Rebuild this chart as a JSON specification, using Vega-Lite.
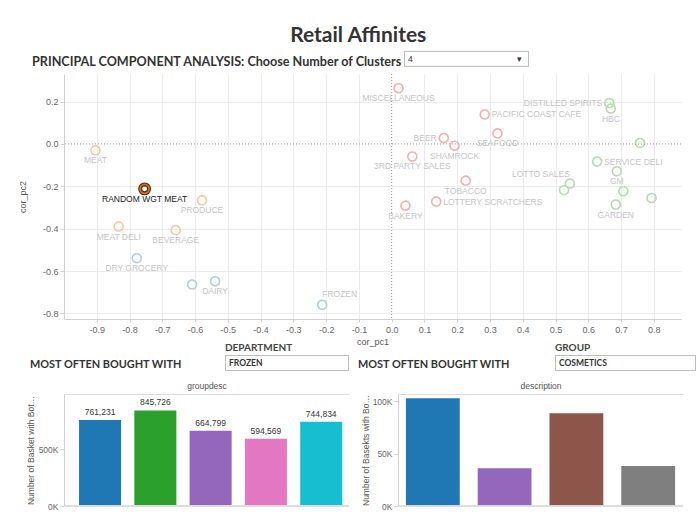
{
  "$schema": "https://vega.github.io/schema/vega-lite/v6.json",
  "background": "white",
  "padding": {"left": 18, "top": 24, "right": 0, "bottom": 0},
  "title": {"text": "Retail Affinites", "font": "Lato", "fontSize": 21, "fontWeight": "bold", "color": "#333", "anchor": "middle", "offset": 5, "dx": 0},
  "spacing": -3,
  "resolve": {"scale": {"x": "independent", "y": "independent", "color": "independent", "strokeDash": "independent"}, "legend": {"color": "independent", "strokeDash": "independent"}},
  "config": {
    "view": {"stroke": null},
    "axis": {"labelFont": "Liberation Sans", "titleFont": "Liberation Sans", "labelColor": "#666", "titleColor": "#555", "labelFontSize": 9, "titleFontSize": 9, "titleFontWeight": "normal", "domainColor": "#d0d0d0", "tickColor": "#d0d0d0", "gridColor": "#ececec", "labelOverlap": false},
    "text": {"font": "Liberation Sans"}
  },
  "vconcat": [
    {
      "width": 617,
      "height": 245,
      "title": {"text": "PRINCIPAL COMPONENT ANALYSIS: Choose Number of Clusters", "anchor": "start", "frame": "group", "dx": -32, "offset": -17.4, "font": "Lato", "fontSize": 12.6, "fontWeight": "bold", "color": "#333"},
      "data": {"values": [
        {"name": "MEAT", "x": -0.904, "y": -0.030, "cluster": "Cluster 2", "clusters": "4"},
        {"name": "RANDOM WGT MEAT", "x": -0.754, "y": -0.212, "cluster": "Cluster 2", "clusters": "4"},
        {"name": "PRODUCE", "x": -0.579, "y": -0.266, "cluster": "Cluster 2", "clusters": "4"},
        {"name": "MEAT DELI", "x": -0.833, "y": -0.390, "cluster": "Cluster 2", "clusters": "4"},
        {"name": "BEVERAGE", "x": -0.659, "y": -0.407, "cluster": "Cluster 2", "clusters": "4"},
        {"name": "DRY GROCERY", "x": -0.778, "y": -0.539, "cluster": "Cluster 1", "clusters": "4"},
        {"name": "BULK FOODS", "x": -0.609, "y": -0.663, "cluster": "Cluster 1", "clusters": "4"},
        {"name": "DAIRY", "x": -0.539, "y": -0.648, "cluster": "Cluster 1", "clusters": "4"},
        {"name": "FROZEN", "x": -0.212, "y": -0.759, "cluster": "Cluster 1", "clusters": "4"},
        {"name": "MISCELLANEOUS", "x": 0.021, "y": 0.263, "cluster": "Cluster 4", "clusters": "4"},
        {"name": "PACIFIC COAST CAFE", "x": 0.284, "y": 0.139, "cluster": "Cluster 4", "clusters": "4"},
        {"name": "SEAFOOD", "x": 0.323, "y": 0.050, "cluster": "Cluster 4", "clusters": "4"},
        {"name": "BEER", "x": 0.159, "y": 0.028, "cluster": "Cluster 4", "clusters": "4"},
        {"name": "SHAMROCK", "x": 0.192, "y": -0.008, "cluster": "Cluster 4", "clusters": "4"},
        {"name": "3RD PARTY SALES", "x": 0.063, "y": -0.059, "cluster": "Cluster 4", "clusters": "4"},
        {"name": "TOBACCO", "x": 0.226, "y": -0.173, "cluster": "Cluster 4", "clusters": "4"},
        {"name": "LOTTERY SCRATCHERS", "x": 0.136, "y": -0.272, "cluster": "Cluster 4", "clusters": "4"},
        {"name": "BAKERY", "x": 0.042, "y": -0.291, "cluster": "Cluster 4", "clusters": "4"},
        {"name": "DISTILLED SPIRITS", "x": 0.664, "y": 0.193, "cluster": "Cluster 3", "clusters": "4"},
        {"name": "HBC", "x": 0.669, "y": 0.167, "cluster": "Cluster 3", "clusters": "4"},
        {"name": "COSMETICS", "x": 0.758, "y": 0.005, "cluster": "Cluster 3", "clusters": "4"},
        {"name": "SERVICE DELI", "x": 0.627, "y": -0.083, "cluster": "Cluster 3", "clusters": "4"},
        {"name": "GM", "x": 0.687, "y": -0.129, "cluster": "Cluster 3", "clusters": "4"},
        {"name": "LOTTO SALES", "x": 0.544, "y": -0.187, "cluster": "Cluster 3", "clusters": "4"},
        {"name": "WINE", "x": 0.526, "y": -0.218, "cluster": "Cluster 3", "clusters": "4"},
        {"name": "PHARMACY", "x": 0.707, "y": -0.223, "cluster": "Cluster 3", "clusters": "4"},
        {"name": "GARDEN", "x": 0.684, "y": -0.286, "cluster": "Cluster 3", "clusters": "4"},
        {"name": "SEASONAL", "x": 0.793, "y": -0.255, "cluster": "Cluster 3", "clusters": "4"}
      ]},
      "layer": [
        {
          "mark": {"type": "point", "filled": false, "size": 80, "strokeWidth": 1.6, "opacity": 1},
          "encoding": {
            "x": {"field": "x", "type": "quantitative", "scale": {"domain": [-1.0, 0.883], "nice": false, "zero": false},
              "axis": {"values": [-0.9, -0.8, -0.7, -0.6, -0.5, -0.4, -0.3, -0.2, -0.1, 0, 0.1, 0.2, 0.3, 0.4, 0.5, 0.6, 0.7, 0.8], "tickCount": 40, "labelExpr": "replace(format(datum.value, '.1f'), '\u2212', '-')", "labelOverlap": false, "title": "cor_pc1", "grid": true, "gridColor": {"condition": {"test": "datum.value === 0", "value": "transparent"}, "value": "#ececec"}, "tickSize": 3, "labelPadding": 3, "titlePadding": 3}},
            "y": {"field": "y", "type": "quantitative", "scale": {"domain": [-0.826, 0.33], "nice": false, "zero": false},
              "axis": {"values": [-0.8, -0.6, -0.4, -0.2, 0, 0.2], "tickCount": 20, "labelExpr": "replace(format(datum.value, '.1f'), '\u2212', '-')", "labelOverlap": false, "title": "cor_pc2", "grid": true, "gridColor": {"condition": {"test": "datum.value === 0", "value": "transparent"}, "value": "#ececec"}, "tickSize": 4, "labelPadding": 2, "titlePadding": 15}},
            "color": {"field": "cluster", "type": "nominal", "scale": {"domain": ["Cluster 1", "Cluster 2", "Cluster 3", "Cluster 4"], "range": ["#b7cce2", "#fac8a0", "#b5dcae", "#f1b0b0"]}, "legend": null},
            "strokeDash": {"field": "clusters", "type": "nominal", "scale": {"range": [[1, 0]]},
              "legend": {"orient": "none", "legendX": 340, "legendY": -23.1, "title": null, "symbolType": "M-1,-1H15.53V1H-1Z", "symbolSize": 225, "symbolFillColor": "white", "symbolStrokeColor": "#a8a8a8", "symbolStrokeWidth": 1, "symbolOpacity": 1, "labelOffset": -12, "labelFont": "Liberation Sans", "labelFontSize": 8.5, "labelColor": "#333", "labelExpr": "datum.label + '\u00a0\u00a0\u00a0\u00a0\u00a0\u00a0\u00a0\u00a0\u00a0\u00a0\u00a0\u00a0\u00a0\u00a0\u00a0\u00a0\u00a0\u00a0\u00a0\u00a0\u00a0\u00a0\u00a0\u00a0\u00a0\u00a0\u00a0\u00a0\u00a0\u00a0\u00a0\u00a0\u00a0\u00a0\u00a0\u00a0\u00a0\u00a0\u00a0\u00a0\u00a0\u00a0\u00a0\u00a0▾'", "labelLimit": 200, "padding": 0}}
          }
        },
        {
          "data": {"values": [{"x": 0}]},
          "mark": {"type": "rule", "color": "#9a9a9a", "strokeDash": [1, 2], "strokeWidth": 1},
          "encoding": {"x": {"field": "x", "type": "quantitative"}}
        },
        {
          "data": {"values": [{"y": 0}]},
          "mark": {"type": "rule", "color": "#9a9a9a", "strokeDash": [1, 2], "strokeWidth": 1},
          "encoding": {"y": {"field": "y", "type": "quantitative"}}
        },
        {
          "transform": [{"filter": {"field": "name", "oneOf": ["MEAT", "PRODUCE", "MEAT DELI", "BEVERAGE", "DRY GROCERY", "DAIRY", "MISCELLANEOUS", "SEAFOOD", "SHAMROCK", "3RD PARTY SALES", "TOBACCO", "BAKERY", "HBC", "GM", "GARDEN"]}}],
          "mark": {"type": "text", "fontSize": 8.5, "color": "#c4c4c4", "align": "center", "baseline": "middle", "dy": 10},
          "encoding": {"x": {"field": "x", "type": "quantitative"}, "y": {"field": "y", "type": "quantitative"}, "text": {"field": "name"}}
        },
        {
          "transform": [{"filter": {"field": "name", "oneOf": ["PACIFIC COAST CAFE", "LOTTERY SCRATCHERS", "SERVICE DELI"]}}],
          "mark": {"type": "text", "fontSize": 8.5, "color": "#c4c4c4", "align": "left", "baseline": "middle", "dx": 7},
          "encoding": {"x": {"field": "x", "type": "quantitative"}, "y": {"field": "y", "type": "quantitative"}, "text": {"field": "name"}}
        },
        {
          "transform": [{"filter": {"field": "name", "oneOf": ["BEER", "DISTILLED SPIRITS"]}}],
          "mark": {"type": "text", "fontSize": 8.5, "color": "#c4c4c4", "align": "right", "baseline": "middle", "dx": -7},
          "encoding": {"x": {"field": "x", "type": "quantitative"}, "y": {"field": "y", "type": "quantitative"}, "text": {"field": "name"}}
        },
        {
          "transform": [{"filter": {"field": "name", "equal": "LOTTO SALES"}}],
          "mark": {"type": "text", "fontSize": 8.5, "color": "#c4c4c4", "align": "right", "baseline": "middle", "dy": -10},
          "encoding": {"x": {"field": "x", "type": "quantitative"}, "y": {"field": "y", "type": "quantitative"}, "text": {"field": "name"}}
        },
        {
          "transform": [{"filter": {"field": "name", "equal": "FROZEN"}}],
          "mark": {"type": "text", "fontSize": 8.5, "color": "#c4c4c4", "align": "left", "baseline": "middle", "dy": -11},
          "encoding": {"x": {"field": "x", "type": "quantitative"}, "y": {"field": "y", "type": "quantitative"}, "text": {"field": "name"}}
        },
        {
          "transform": [{"filter": {"field": "name", "equal": "RANDOM WGT MEAT"}}],
          "mark": {"type": "point", "filled": false, "size": 80, "strokeWidth": 4, "color": "#4a2c14", "opacity": 1},
          "encoding": {"x": {"field": "x", "type": "quantitative"}, "y": {"field": "y", "type": "quantitative"}}
        },
        {
          "transform": [{"filter": {"field": "name", "equal": "RANDOM WGT MEAT"}}],
          "mark": {"type": "point", "filled": false, "size": 80, "strokeWidth": 1.8, "color": "#d86c1c", "opacity": 1},
          "encoding": {"x": {"field": "x", "type": "quantitative"}, "y": {"field": "y", "type": "quantitative"}}
        },
        {
          "transform": [{"filter": {"field": "name", "equal": "RANDOM WGT MEAT"}}],
          "mark": {"type": "text", "fontSize": 8.5, "color": "#222", "align": "center", "baseline": "middle", "dy": 10},
          "encoding": {"x": {"field": "x", "type": "quantitative"}, "y": {"field": "y", "type": "quantitative"}, "text": {"field": "name"}}
        }
      ]
    },
    {
      "spacing": 7,
      "resolve": {"scale": {"x": "independent", "y": "independent", "color": "independent", "strokeDash": "independent"}, "legend": {"color": "independent", "strokeDash": "independent"}},
      "hconcat": [
        {
          "width": 285,
          "height": 112,
          "title": {"text": "MOST OFTEN BOUGHT WITH", "anchor": "start", "frame": "group", "dx": -34, "offset": -27, "font": "Lato", "fontSize": 10.9, "fontWeight": "bold", "color": "#333"},
          "data": {"values": [
            {"groupdesc": "DAIRY", "baskets": 761231, "dept": "FROZEN"},
            {"groupdesc": "PRODUCE", "baskets": 845726, "dept": "FROZEN"},
            {"groupdesc": "GROCERY", "baskets": 664799, "dept": "FROZEN"},
            {"groupdesc": "MEAT", "baskets": 594569, "dept": "FROZEN"},
            {"groupdesc": "BEVERAGE", "baskets": 744834, "dept": "FROZEN"}
          ]},
          "layer": [
            {
              "mark": {"type": "bar"},
              "encoding": {
                "x": {"field": "groupdesc", "type": "nominal", "sort": null, "scale": {"paddingInner": 0.24, "paddingOuter": 0.197, "align": 0.69},
                  "axis": {"orient": "top", "labels": false, "ticks": false, "title": "groupdesc", "domainColor": "#dcdcdc", "titleFontSize": 8.5, "titlePadding": 4}},
                "y": {"field": "baskets", "type": "quantitative", "scale": {"domain": [0, 991000], "nice": false},
                  "axis": {"values": [0, 500000], "labelExpr": "datum.value / 1000 + 'K'", "title": "Number of Basket with Both Products", "titleLimit": 112, "grid": false, "tickSize": 4, "labelPadding": 2, "labelFontSize": 8.5, "titleFontSize": 8.5, "titlePadding": 3}},
                "color": {"field": "groupdesc", "type": "nominal", "sort": null, "scale": {"range": ["#1f77b4", "#2ca02c", "#9467bd", "#e377c2", "#17becf"]}, "legend": null},
                "strokeDash": {"field": "dept", "type": "nominal", "scale": {"range": [[1, 0]]},
                  "legend": {"orient": "none", "legendX": 161, "legendY": -51, "title": "DEPARTMENT", "titleFont": "Lato", "titleFontSize": 10, "titleFontWeight": "bold", "titleColor": "#444", "titlePadding": 2, "symbolType": "M-1,-1H15.4V1H-1Z", "symbolSize": 225, "symbolFillColor": "white", "symbolStrokeColor": "#a8a8a8", "symbolStrokeWidth": 1, "symbolOpacity": 1, "labelOffset": -12, "labelFont": "Lato", "labelFontSize": 8.5, "labelFontWeight": "bold", "labelColor": "#333", "padding": 0}}
              }
            },
            {
              "mark": {"type": "text", "baseline": "bottom", "dy": -3, "fontSize": 8.5, "color": "#333"},
              "encoding": {
                "x": {"field": "groupdesc", "type": "nominal", "sort": null},
                "y": {"field": "baskets", "type": "quantitative"},
                "text": {"field": "baskets", "type": "quantitative", "format": ","}
              }
            },
            {
              "mark": {"type": "rule", "color": "#dcdcdc"},
              "encoding": {"y": {"datum": 0}}
            }
          ]
        },
        {
          "width": 285,
          "height": 112,
          "title": {"text": "MOST OFTEN BOUGHT WITH", "anchor": "start", "frame": "group", "dx": -40, "offset": -27, "font": "Lato", "fontSize": 10.9, "fontWeight": "bold", "color": "#333"},
          "data": {"values": [
            {"description": "LIP COLOR", "baskets": 102600, "grp": "COSMETICS"},
            {"description": "NAIL CARE", "baskets": 35900, "grp": "COSMETICS"},
            {"description": "FACIAL", "baskets": 88300, "grp": "COSMETICS"},
            {"description": "EYE MAKEUP", "baskets": 38100, "grp": "COSMETICS"}
          ]},
          "layer": [
            {
              "mark": {"type": "bar"},
              "encoding": {
                "x": {"field": "description", "type": "nominal", "sort": null, "scale": {"paddingInner": 0.25, "paddingOuter": 0.11},
                  "axis": {"orient": "top", "labels": false, "ticks": false, "title": "description", "domainColor": "#dcdcdc", "titleFontSize": 8.5, "titlePadding": 4}},
                "y": {"field": "baskets", "type": "quantitative", "scale": {"domain": [0, 106700], "nice": false},
                  "axis": {"values": [0, 50000, 100000], "labelExpr": "datum.value / 1000 + 'K'", "title": "Number of Basekts with Both Products", "titleLimit": 112, "grid": false, "tickSize": 4, "labelPadding": 2, "labelFontSize": 8.5, "titleFontSize": 8.5, "titlePadding": 2}},
                "color": {"field": "description", "type": "nominal", "sort": null, "scale": {"range": ["#1f77b4", "#9467bd", "#8c564b", "#7f7f7f"]}, "legend": null},
                "strokeDash": {"field": "grp", "type": "nominal", "scale": {"range": [[1, 0]]},
                  "legend": {"orient": "none", "legendX": 157, "legendY": -51, "title": "GROUP", "titleFont": "Lato", "titleFontSize": 10, "titleFontWeight": "bold", "titleColor": "#444", "titlePadding": 2, "symbolType": "M-1,-1H17.67V1H-1Z", "symbolSize": 225, "symbolFillColor": "white", "symbolStrokeColor": "#a8a8a8", "symbolStrokeWidth": 1, "symbolOpacity": 1, "labelOffset": -12, "labelFont": "Lato", "labelFontSize": 8.5, "labelFontWeight": "bold", "labelColor": "#333", "padding": 0}}
              }
            },
            {
              "mark": {"type": "rule", "color": "#dcdcdc"},
              "encoding": {"y": {"datum": 0}}
            }
          ]
        }
      ]
    }
  ]
}
